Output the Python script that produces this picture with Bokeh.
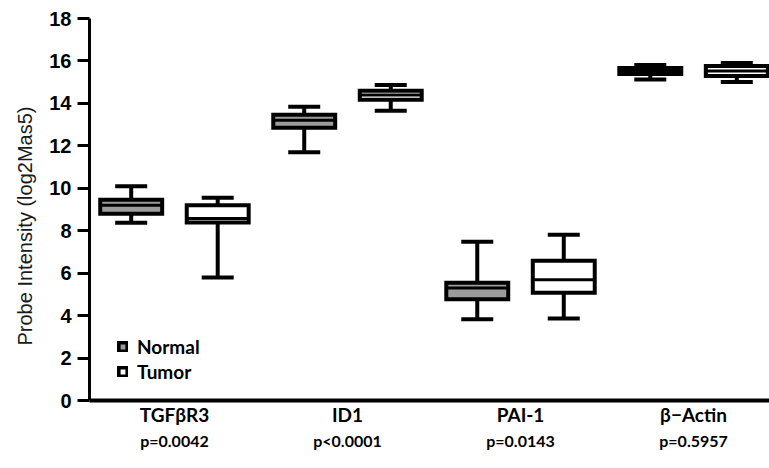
import numpy as np
from bokeh.plotting import figure
from bokeh.models import FixedTicker, Legend, LegendItem, Range1d, LinearAxis, Title
from bokeh.embed import file_html
from bokeh.resources import INLINE

categories = ["TGFβR3", "ID1", "PAI-1", "β−Actin"]
p_values = ["p=0.0042", "p<0.0001", "p=0.0143", "p=0.5957"]

normal_low = [8.38, 11.7, 3.83, 15.13]
normal_q1 = [8.8, 12.85, 4.77, 15.39]
normal_med = [9.2, 13.2, 5.3, 15.53]
normal_q3 = [9.46, 13.46, 5.55, 15.67]
normal_high = [10.1, 13.84, 7.48, 15.81]

tumor_low = [5.79, 13.65, 3.86, 15.01]
tumor_q1 = [8.39, 14.17, 5.08, 15.29]
tumor_med = [8.58, 14.4, 5.69, 15.53]
tumor_q3 = [9.2, 14.59, 6.59, 15.76]
tumor_high = [9.55, 14.87, 7.81, 15.9]

y_ticks = list(range(0, 19, 2))

x = np.arange(len(categories))
offset = 0.25
box_w = 0.358
cap_w = 0.185

p = figure(width=769, height=466, x_range=Range1d(-0.491, 3.439), y_range=Range1d(0, 18),
           output_backend="svg", toolbar_location=None,
           min_border_left=89, min_border_top=18, min_border_right=0, min_border_bottom=66)
p.outline_line_color = None
p.xgrid.visible = False
p.ygrid.visible = False
p.background_fill_color = "white"

def draw(xc, low, q1, med, q3, high, fill):
    p.segment(x0=xc, y0=low, x1=xc, y1=high, line_color="black", line_width=4)
    r = p.quad(left=xc - box_w / 2, right=xc + box_w / 2, bottom=q1, top=q3,
               fill_color=fill, line_color="black", line_width=4, line_join="miter")
    p.segment(x0=xc - box_w / 2, y0=med, x1=xc + box_w / 2, y1=med, line_color="black", line_width=3)
    p.segment(x0=xc - cap_w / 2, y0=low, x1=xc + cap_w / 2, y1=low, line_color="black", line_width=4)
    p.segment(x0=xc - cap_w / 2, y0=high, x1=xc + cap_w / 2, y1=high, line_color="black", line_width=4)
    return r

rn = draw(x - offset, np.array(normal_low), np.array(normal_q1), np.array(normal_med),
          np.array(normal_q3), np.array(normal_high), "#9c9c9c")
rt = draw(x + offset, np.array(tumor_low), np.array(tumor_q1), np.array(tumor_med),
          np.array(tumor_q3), np.array(tumor_high), "white")

# y axis
ya = p.yaxis[0]
ya.ticker = FixedTicker(ticks=y_ticks)
ya.axis_line_width = 3
ya.major_tick_line_width = 3
ya.major_tick_out = 12
ya.major_tick_in = 0
ya.minor_tick_out = 0
ya.minor_tick_in = 0
ya.major_label_text_font = "Liberation Sans"
ya.major_label_text_font_style = "bold"
ya.major_label_text_font_size = "20px"
ya.major_label_text_color = "black"
ya.major_label_standoff = 6

p.add_layout(Title(text="Probe Intensity (log2Mas5)", align="left", offset=55, standoff=22,
                   text_font="Liberation Sans", text_font_style="normal", text_font_size="20px",
                   text_color="#1a1a1a"), "left")

# x axis with category names
cat_ticks = list(range(len(categories)))
xa = p.xaxis[0]
xa.ticker = FixedTicker(ticks=cat_ticks)
xa.major_label_overrides = {i: c for i, c in enumerate(categories)}
xa.axis_line_width = 4
xa.major_tick_out = 0
xa.major_tick_in = 0
xa.minor_tick_out = 0
xa.minor_tick_in = 0
xa.major_tick_line_color = None
xa.major_label_standoff = 2
xa.major_label_text_font = "Lato"
xa.major_label_text_font_style = "bold"
xa.major_label_text_font_size = "19px"
xa.major_label_text_color = "black"

# second axis with p-values
pa = LinearAxis(ticker=FixedTicker(ticks=cat_ticks),
                major_label_overrides={i: v for i, v in enumerate(p_values)})
pa.axis_line_color = None
pa.major_tick_line_color = None
pa.minor_tick_line_color = None
pa.major_tick_out = 0
pa.major_tick_in = 0
pa.minor_tick_out = 0
pa.minor_tick_in = 0
pa.major_label_standoff = 2
pa.major_label_text_font = "Lato"
pa.major_label_text_font_style = "bold"
pa.major_label_text_font_size = "16px"
pa.major_label_text_color = "black"
p.add_layout(pa, "below")

legend = Legend(items=[LegendItem(label="Normal", renderers=[rn]), LegendItem(label="Tumor", renderers=[rt])],
                location=(28, 17), orientation="vertical")
legend.border_line_color = None
legend.background_fill_alpha = 0
legend.padding = 0
legend.margin = 0
legend.spacing = 2
legend.glyph_width = 11
legend.glyph_height = 11
legend.label_standoff = 9
legend.label_text_font = "Lato"
legend.label_text_font_style = "bold"
legend.label_text_font_size = "19px"
legend.label_text_color = "black"
legend.label_height = 20
p.add_layout(legend)

open("out.html", "w").write(file_html(p, INLINE))
